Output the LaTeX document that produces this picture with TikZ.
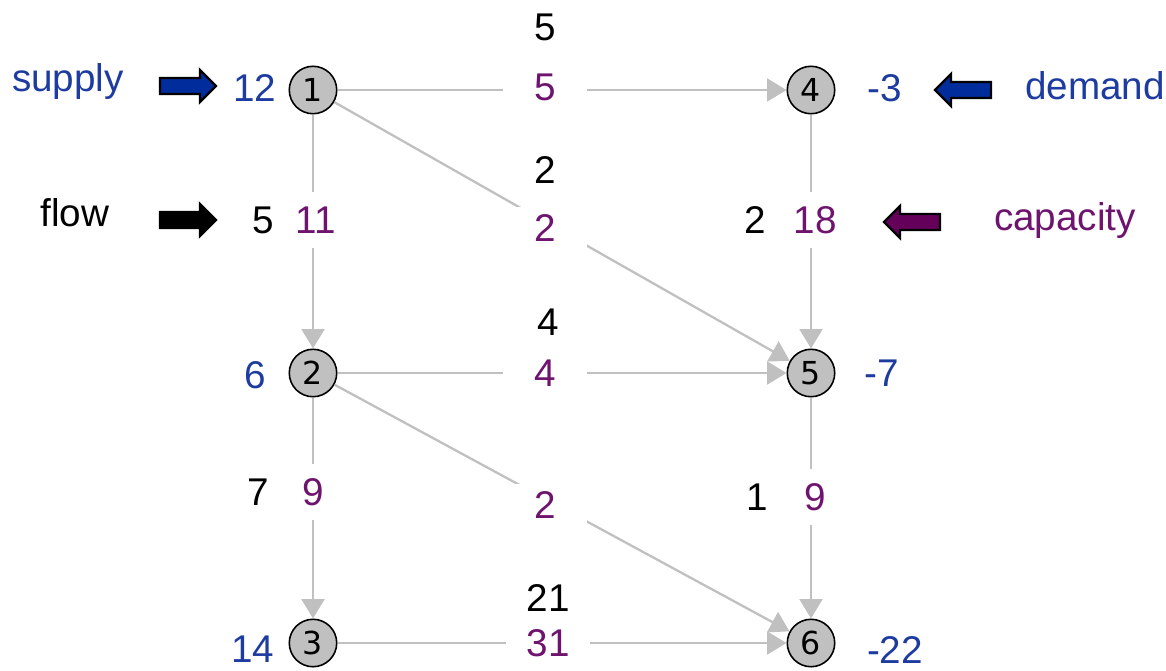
\documentclass[tikz,border=0pt]{standalone}
\usepackage{fontspec}
\setmainfont{Liberation Sans}
\newfontfamily\circfont{DejaVu Sans}
\usetikzlibrary{arrows.meta}
\definecolor{supblue}{RGB}{30,60,160}
\definecolor{arrblue}{RGB}{0,45,155}
\definecolor{cappurple}{RGB}{110,20,110}
\definecolor{arrpurple}{RGB}{100,0,90}
\definecolor{edgegrey}{RGB}{192,192,192}
\definecolor{vertexgrey}{RGB}{192,192,192}
\begin{document}
\begin{tikzpicture}[x=0.02cm,y=-0.02cm,
  vertex/.style={circle,draw=black,line width=0.9pt,fill=vertexgrey,
    minimum size=27pt,inner sep=0pt,font=\circfont\fontsize{18}{20}\selectfont},
  edge/.style={draw=edgegrey,line width=1.3pt,
    -{Triangle[length=11pt,width=13pt]}},
  txt/.style={inner sep=0pt,font=\fontsize{22}{26}\selectfont},
  flowlab/.style={txt,text=black},
  caplab/.style={txt,text=cappurple,fill=white},
  hcap/.style={caplab,minimum width=48pt,minimum height=24pt},
  vcap/.style={caplab,minimum width=20pt,minimum height=32pt},
  sdlab/.style={txt,text=supblue},
  blockarrow/.pic={
    \draw[pic actions,line width=1.3pt,line join=miter]
      (0,-8) -- (40,-8) -- (40,-16) -- (56,0) -- (40,16) -- (40,8) -- (0,8) -- cycle;}
]
\useasboundingbox (0,0) rectangle (1166,670);

% vertices
\node[vertex] (n1) at (313,90) {1};
\node[vertex] (n4) at (811,90) {4};
\node[vertex] (n2) at (313,373) {2};
\node[vertex] (n5) at (811,373) {5};
\node[vertex] (n3) at (313,643) {3};
\node[vertex] (n6) at (811,643) {6};

% arcs
\draw[edge] (n1) -- (n4);
\draw[edge] (n1) -- (n5);
\draw[edge] (n1) -- (n2);
\draw[edge] (n4) -- (n5);
\draw[edge] (n2) -- (n5);
\draw[edge] (n2) -- (n6);
\draw[edge] (n2) -- (n3);
\draw[edge] (n5) -- (n6);
\draw[edge] (n3) -- (n6);

% capacities (purple) and flows (black)
\node[hcap] (c14) at (545,87) {5};
\node[flowlab] (f14) at (545,27) {5};
\node[hcap] (c15) at (545,228) {2};
\node[flowlab] (f15) at (545,170) {2};
\node[vcap] (c12) at (316,220) {11};
\node[flowlab] (f12) at (263,220) {5};
\node[vcap] (c45) at (815,220) {18};
\node[flowlab] (f45) at (755,220) {2};
\node[hcap] (c25) at (545,373) {4};
\node[flowlab] (f25) at (548,322) {4};
\node[hcap] (c26) at (545,505) {2};
\node[vcap] (c23) at (313,492) {9};
\node[flowlab] (f23) at (258,492) {7};
\node[vcap] (c56) at (815,497) {9};
\node[flowlab] (f56) at (757,497) {1};
\node[hcap] (c36) at (548,643) {31};
\node[flowlab] (f36) at (548,598) {21};

% supplies and demands
\node[sdlab] (b1) at (255,88) {12};
\node[sdlab] (b4) at (885,88) {-3};
\node[sdlab] (b2) at (255,375) {6};
\node[sdlab] (b5) at (882,373) {-7};
\node[sdlab] (b3) at (253,649) {14};
\node[sdlab] (b6) at (895,650) {-22};

% legend
\node[sdlab] (lsupply) at (68,82) {supply};
\pic[fill=arrblue] at (160,86) {blockarrow};
\node[sdlab] (ldemand) at (1095,86) {demand};
\pic[fill=arrblue,rotate=180] at (991,90) {blockarrow};
\node[flowlab] (lflow) at (75,213) {flow};
\pic[fill=black] at (160,220) {blockarrow};
\node[txt,text=cappurple] (lcap) at (1065,220) {capacity};
\pic[fill=arrpurple,rotate=180] at (940,222) {blockarrow};
\end{tikzpicture}
\end{document}
